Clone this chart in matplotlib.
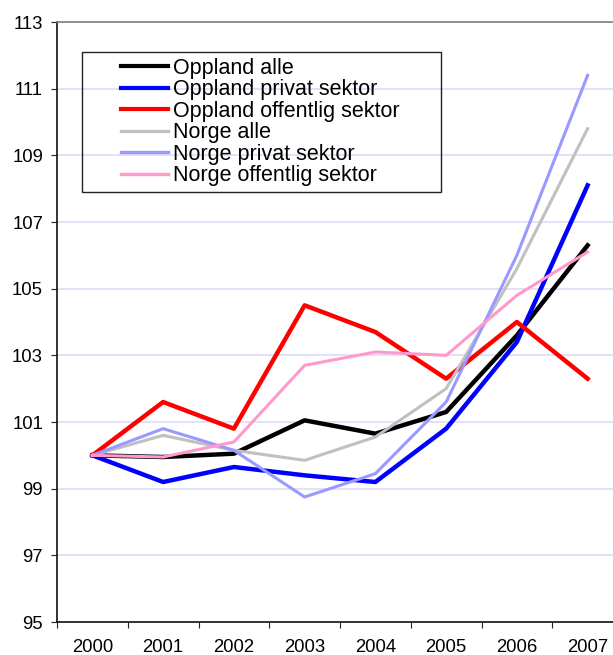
import matplotlib.pyplot as plt
from matplotlib.patches import Rectangle
import numpy as np

plt.rcParams['font.family'] = ['Liberation Sans', 'DejaVu Sans']

years = ['2000', '2001', '2002', '2003', '2004', '2005', '2006', '2007']

oppland_alle = [100.0, 99.95, 100.05, 101.05, 100.65, 101.3, 103.6, 106.3]
oppland_privat = [100.0, 99.2, 99.65, 99.4, 99.2, 100.8, 103.4, 108.1]
oppland_offentlig = [100.0, 101.6, 100.8, 104.5, 103.7, 102.3, 104.0, 102.3]
norge_alle = [100.0, 100.6, 100.15, 99.85, 100.55, 102.0, 105.6, 109.8]
norge_privat = [100.0, 100.8, 100.15, 98.75, 99.45, 101.6, 106.0, 111.4]
norge_offentlig = [100.0, 99.95, 100.4, 102.7, 103.1, 103.0, 104.8, 106.1]

series = [
    ('Oppland alle', oppland_alle, '#000000', 3.2),
    ('Oppland privat sektor', oppland_privat, '#0000ff', 3.2),
    ('Oppland offentlig sektor', oppland_offentlig, '#ff0000', 3.2),
    ('Norge alle', norge_alle, '#c0c0c0', 2.2),
    ('Norge privat sektor', norge_privat, '#9999ff', 2.2),
    ('Norge offentlig sektor', norge_offentlig, '#ff99cc', 2.2),
]

fig = plt.figure(figsize=(6.13, 6.55), dpi=100)
# plot area runs off the right edge of the picture, like the reference
ax = fig.add_axes([57 / 613, 33 / 655, 566 / 613, 600 / 655])

x = np.arange(len(years))
for name, vals, color, lw in series:
    ax.plot(x, vals, color=color, linewidth=lw, label=name)

ax.set_xlim(-0.5, len(years) - 0.5)
ax.set_ylim(95, 113)
ax.set_yticks(np.arange(95, 114, 2))
ax.yaxis.grid(True, color='#dedefa', linewidth=1.3)
ax.set_axisbelow(True)

# category axis: ticks between years, labels centred on the points
ax.set_xticks(np.arange(-0.5, len(years), 1.0))
ax.set_xticklabels([])
ax.set_xticks(x, minor=True)
ax.set_xticklabels(years, minor=True)
ax.tick_params(axis='x', which='minor', length=0, pad=12, labelsize=13.3)
ax.tick_params(axis='x', which='major', length=4, direction='out', color='#222222')
ax.tick_params(axis='y', length=4, direction='out', color='#222222', labelsize=13.3, pad=6)

for s in ax.spines.values():
    s.set_color('#111111')
    s.set_linewidth(1.2)
ax.spines['top'].set_color('#808080')

leg = ax.legend(loc='upper left', bbox_to_anchor=(121 / 613, 1 - 58 / 655),
                bbox_transform=fig.transFigure, frameon=False, fontsize=15.5,
                handlelength=2.2, handletextpad=0.2, labelspacing=0.02,
                borderpad=0, borderaxespad=0)
for line in leg.get_lines():
    line.set_linewidth(3.0 if line.get_color() in ('#000000', '#0000ff', '#ff0000') else 2.4)

# legend frame
fig.patches.append(Rectangle((82 / 613, 1 - 192 / 655), 359 / 613, 140 / 655,
                             transform=fig.transFigure, fill=False,
                             edgecolor='#222222', linewidth=1.0))

fig.savefig('out.png', dpi=100)
